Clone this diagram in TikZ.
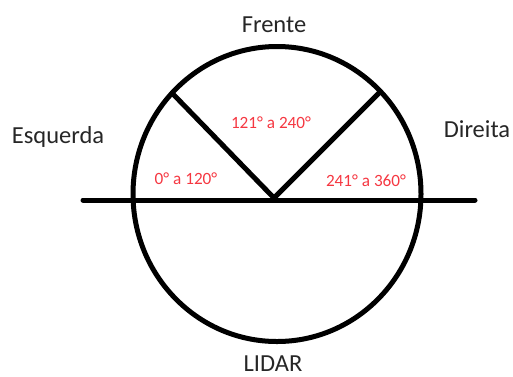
\documentclass[tikz,border=0pt]{standalone}
\usepackage{fontspec}
\setmainfont{Carlito}
\definecolor{lblred}{RGB}{245,55,65}
\begin{document}
\begin{tikzpicture}[x=1pt,y=-1pt,
  thickline/.style={line width=5pt,black,line cap=round},
  bigtxt/.style={inner sep=0pt,anchor=base,font=\fontsize{24.5}{28}\selectfont,text=black!85},
  redtxt/.style={inner sep=0pt,anchor=base,font=\fontsize{17.2}{20}\selectfont,text=lblred}]
\useasboundingbox (0,0) rectangle (513,376);
\coordinate (c) at (274,198);
\coordinate (ll) at (83,200);
\coordinate (lr) at (475,200);
\coordinate (pl) at (172,93);
\coordinate (pr) at (379,93);
\draw[line width=5pt] (277,194) ellipse [x radius=144, y radius=147.5];
\draw[thickline] (ll) -- (lr);
\draw[thickline] (pl) -- (c) -- (pr);
\node[bigtxt] (frente) at (274,32) {Frente};
\node[bigtxt] (esq) at (58,143) {Esquerda};
\node[bigtxt] (dir) at (477,137) {Direita};
\node[bigtxt] (lidar) at (273,371) {LIDAR};
\node[redtxt] (s2) at (271,128) {121° a 240°};
\node[redtxt] (s1) at (186,184) {0° a 120°};
\node[redtxt] (s3) at (366,186) {241° a 360°};
\end{tikzpicture}
\end{document}
